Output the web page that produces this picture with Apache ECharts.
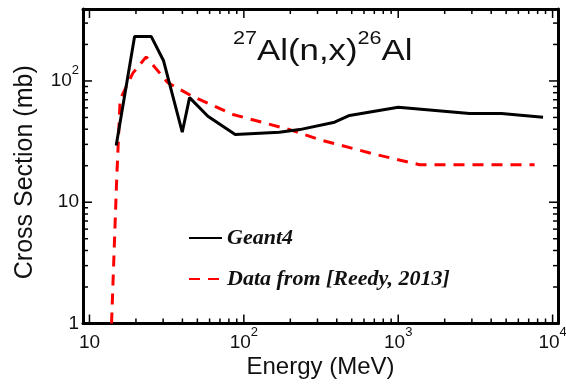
<!DOCTYPE html>
<html>
<head>
<meta charset="utf-8">
<script src="https://cdn.jsdelivr.net/npm/echarts@6/dist/echarts.min.js"></script>
<style>
  html, body { margin: 0; padding: 0; background: #fff; }
  #chart { width: 566px; height: 384px; }
</style>
</head>
<body>
<div id="chart"></div>
<script>
// Geant4 cross section for 27Al(n,x)26Al (energy in MeV, cross section in mb)
const geantEnergy = [14.9, 19.6, 25.1, 30.2, 39.9, 44.5, 58.5, 87.9, 170, 230, 387, 484, 1000, 2900, 4660, 8670];
const geantXS     = [29.3, 233, 233, 146.6, 37.8, 72.8, 51.2, 36.1, 37.8, 39.7, 45.7, 51.9, 60.8, 53.9, 53.9, 50.3];

// Evaluated data from Reedy (2013)
const reedyEnergy = [13.9, 15.0, 15.8, 19.1, 23.3, 32.1, 46.8, 84.9, 198, 309, 685, 1376, 7650];
const reedyXS     = [1.0, 15.3, 70.5, 116, 158, 97, 74.3, 52.9, 39.7, 32.8, 25.1, 20.4, 20.4];

// Axis ranges and tick values
const xRange = [9.08, 10840];
const yRange = [1, 392];
const xMajorTicks = [10, 100, 1000, 10000];
const xMinorTicks = [20, 30, 40, 50, 60, 70, 80, 90,
                     200, 300, 400, 500, 600, 700, 800, 900,
                     2000, 3000, 4000, 5000, 6000, 7000, 8000, 9000];
const yMajorTicks = [1, 10, 100];
const yMinorTicks = [2, 3, 4, 5, 6, 7, 8, 9, 20, 30, 40, 50, 60, 70, 80, 90, 200, 300];

const MAJOR_LEN = 9, MINOR_LEN = 5;
const SANS = '"Liberation Sans", Arial, Helvetica, sans-serif';
const SERIF = '"Liberation Serif", "Times New Roman", serif';

// "10", "10^2", ... with a raised exponent
function powerLabel(v) {
  const p = Math.round(Math.log10(v));
  if (p === 0) return '{b|1}';
  if (p === 1) return '{b|10}';
  return '{b|10}{sup|' + p + '}';
}

// exponent raised by bottom padding inside a tall line
const labelRich = {
  b:   { fontFamily: SANS, fontSize: 19, lineHeight: 34, color: '#111' },
  sup: { fontFamily: SANS, fontSize: 13, lineHeight: 13, padding: [0, 0, 21, 0], color: '#111' }
};

function frameAxis(position, range) {
  return {
    type: 'log', logBase: 10, gridIndex: 0, position: position,
    min: range[0], max: range[1],
    splitLine: { show: false }, minorTick: { show: false }, minorSplitLine: { show: false },
    axisLine: { show: true, onZero: false, lineStyle: { color: '#000', width: 3 } },
    axisTick: { show: false },
    axisLabel: { show: false },
    axisPointer: { show: false }
  };
}

const xAxes = [frameAxis('bottom', xRange), frameAxis('top', xRange)];
Object.assign(xAxes[0], {
  axisLabel: { show: true, customValues: xMajorTicks, margin: 2, formatter: powerLabel, rich: labelRich },
  name: 'Energy (MeV)', nameLocation: 'middle', nameGap: 32, nameMoveOverlap: false,
  nameTextStyle: { fontFamily: SANS, fontSize: 24, color: '#111' }
});

const yAxes = [frameAxis('left', yRange), frameAxis('right', yRange)];
Object.assign(yAxes[0], {
  axisLabel: { show: true, customValues: yMajorTicks, margin: 4, formatter: powerLabel, rich: labelRich },
  name: 'Cross Section (mb)', nameLocation: 'middle', nameGap: 45, nameRotate: 90, nameMoveOverlap: false,
  nameTextStyle: { fontFamily: SANS, fontSize: 25, color: '#111', padding: [0, 12, 0, 0] }
});

// Inward ticks on all four sides of the frame, placed through the axis scales
const xTickData = xMajorTicks.map(v => [v, MAJOR_LEN]).concat(xMinorTicks.map(v => [v, MINOR_LEN]));
const yTickData = yMajorTicks.map(v => [xRange[0], v, MAJOR_LEN]).concat(yMinorTicks.map(v => [xRange[0], v, MINOR_LEN]));
const tickStyle = { stroke: '#000', lineWidth: 1.5 };

function renderXTick(params, api) {
  const v = api.value(0), len = api.value(1);
  const b = api.coord([v, yRange[0]]);
  const t = api.coord([v, yRange[1]]);
  return { type: 'group', children: [
    { type: 'line', shape: { x1: b[0], y1: b[1], x2: b[0], y2: b[1] - len }, style: tickStyle },
    { type: 'line', shape: { x1: t[0], y1: t[1], x2: t[0], y2: t[1] + len }, style: tickStyle }
  ] };
}
function renderYTick(params, api) {
  const v = api.value(1), len = api.value(2);
  const l = api.coord([xRange[0], v]);
  const r = api.coord([xRange[1], v]);
  return { type: 'group', children: [
    { type: 'line', shape: { x1: l[0], y1: l[1], x2: l[0] + len, y2: l[1] }, style: tickStyle },
    { type: 'line', shape: { x1: r[0], y1: r[1], x2: r[0] - len, y2: r[1] }, style: tickStyle }
  ] };
}

const chart = echarts.init(document.getElementById('chart'), null, { renderer: 'canvas' });
chart.setOption({
  animation: false,
  backgroundColor: '#fff',
  grid: { left: 83, right: 8, top: 9, bottom: 60.5, containLabel: false, outerBoundsMode: 'none' },
  graphic: [{
    type: 'text', x: 233, y: 30.5, scaleX: 1.2, silent: true,
    style: {
      text: '{sup|27}{b|Al(n,x)}{sup|26}{b|Al}',
      verticalAlign: 'top', align: 'left',
      rich: {
        b:   { fontFamily: SANS, fontSize: 29, lineHeight: 43.5, fill: '#111' },
        sup: { fontFamily: SANS, fontSize: 18, lineHeight: 18, padding: [0, 0, 25.5, 0], fill: '#111' }
      }
    }
  }],
  legend: {
    orient: 'vertical', left: 188, top: 227, padding: 0,
    itemWidth: 33, itemHeight: 3, itemGap: 19,
    itemStyle: { opacity: 0, borderWidth: 0 },
    textStyle: { fontFamily: SERIF, fontSize: 22, fontWeight: 'bold', fontStyle: 'italic', color: '#111' },
    data: ['Geant4', 'Data from [Reedy, 2013]']
  },
  xAxis: xAxes,
  yAxis: yAxes,
  series: [
    {
      name: 'Data from [Reedy, 2013]', type: 'line', xAxisIndex: 0, yAxisIndex: 0,
      data: reedyEnergy.map((e, i) => [e, reedyXS[i]]),
      symbol: 'none', smooth: false,
      lineStyle: { color: '#ff0000', width: 3, type: [11, 8] },
      itemStyle: { color: '#ff0000' }
    },
    {
      name: 'Geant4', type: 'line', xAxisIndex: 0, yAxisIndex: 0,
      data: geantEnergy.map((e, i) => [e, geantXS[i]]),
      symbol: 'none', smooth: false,
      lineStyle: { color: '#000', width: 3 },
      itemStyle: { color: '#000' }
    },
    { type: 'custom', name: 'xTicks', xAxisIndex: 0, yAxisIndex: 0, silent: true,
      data: xTickData, renderItem: renderXTick },
    { type: 'custom', name: 'yTicks', xAxisIndex: 0, yAxisIndex: 0, silent: true,
      encode: { x: 0, y: 1 },
      data: yTickData, renderItem: renderYTick }
  ]
});
</script>
</body>
</html>
